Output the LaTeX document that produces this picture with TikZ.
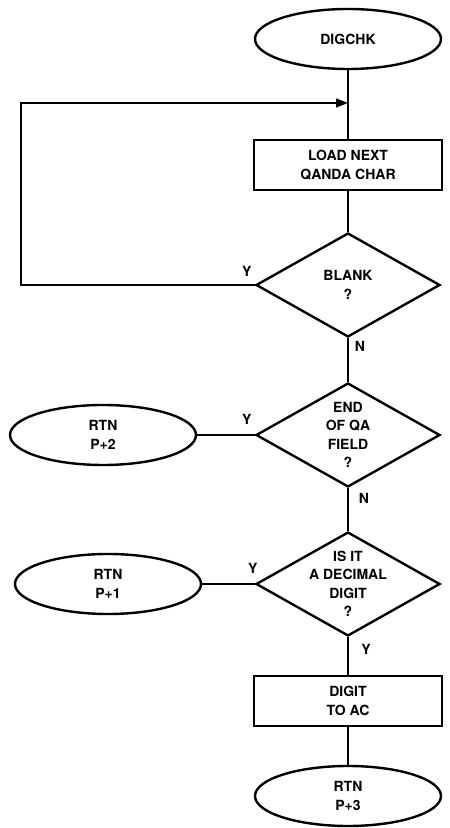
\documentclass[tikz,border=0pt]{standalone}
\usepackage{fontspec}
\setmainfont{TeX Gyre Heros}
\usetikzlibrary{arrows.meta,shapes.geometric}

\begin{document}
\begin{tikzpicture}[x=1pt, y=1pt, >={Triangle[length=12pt,width=9pt]},
  every node/.style={font=\bfseries\fontsize{14}{18.5}\selectfont, align=center},
  term/.style={draw, ellipse, line width=2.4pt, minimum width=186pt, minimum height=60pt, inner sep=0pt},
  proc/.style={draw, rectangle, line width=2.4pt, minimum width=188pt, minimum height=50pt},
  decide/.style={draw, diamond, line width=2.4pt, minimum width=184pt, minimum height=104pt, inner sep=0pt},
  flow/.style={line width=1.6pt},
  lbl/.style={inner sep=0pt}]
\useasboundingbox (0,0) rectangle (450,828);
% main column
\node[term] (digchk) at (348,789) {DIGCHK};
\coordinate (loopin) at (348,725);
\node[proc] (load) at (348,663) {LOAD NEXT\\QANDA CHAR};
\node[decide, label={center:{BLANK\\?}}] (blank) at (348,543) {};
\node[decide, label={center:{END\\OF QA\\FIELD\\?}}] (endqa) at (348,393) {};
\node[decide, label={center:{IS IT\\A DECIMAL\\DIGIT\\?}}] (isdig) at (348,244) {};
\node[proc] (digit) at (348,127) {DIGIT\\TO AC};
\node[term] (rtnthree) at (348,32) {RTN\\P+3};
% exits on the left
\node[term] (rtntwo) at (103,393) {RTN\\P+2};
\node[term] (rtnone) at (108,244) {RTN\\P+1};

\draw[flow] (digchk) -- (load);
\draw[flow] (load) -- (blank);
\draw[flow] (blank) -- (endqa);
\draw[flow] (endqa) -- (isdig);
\draw[flow] (isdig) -- (digit);
\draw[flow] (digit) -- (rtnthree);
\draw[flow] (rtntwo) -- (endqa);
\draw[flow] (rtnone) -- (isdig);
\draw[flow,->] (blank.west) -- ++(-234,0) |- (loopin);

% branch labels
\node[lbl] at ([shift={(-8,14)}]blank.west) {Y};
\node[lbl] at ([shift={(12,-8)}]blank.south) {N};
\node[lbl] at ([shift={(-8,16)}]endqa.west) {Y};
\node[lbl] at ([shift={(16,-10)}]endqa.south) {N};
\node[lbl] at ([shift={(-2,16)}]isdig.west) {Y};
\node[lbl] at ([shift={(18,-12)}]isdig.south) {Y};
\end{tikzpicture}
\end{document}
